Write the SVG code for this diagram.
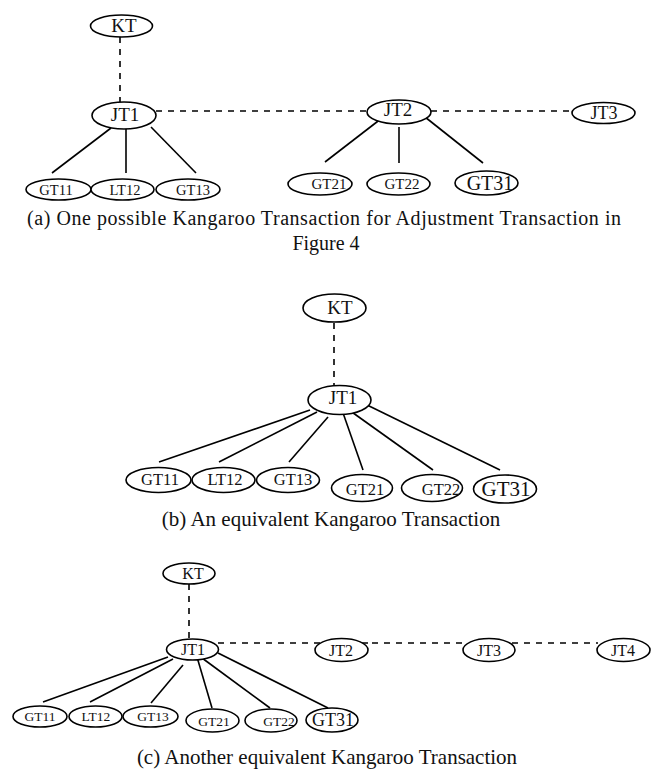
<svg xmlns="http://www.w3.org/2000/svg" width="652" height="772" viewBox="0 0 652 772">
<style>
.n ellipse{fill:#fff;stroke:#000;stroke-width:1.6}
.n text{font-family:"Liberation Serif","Times New Roman",serif;fill:#111;text-anchor:middle}
.s{stroke:#000;stroke-width:1.6;fill:none}
.d{stroke:#000;stroke-width:1.6;fill:none;stroke-dasharray:6,6}
.cap{font-family:"Liberation Serif","Times New Roman",serif;font-size:20px;fill:#111}
.cap2{font-family:"Liberation Serif","Times New Roman",serif;font-size:21px;fill:#111;text-anchor:middle}
</style>
<rect width="652" height="772" fill="#fff"/>
<g id="connectors">
<!-- (a) -->
<line class="d" x1="120" y1="37" x2="120" y2="102"/>
<line class="d" x1="156" y1="111" x2="367" y2="111"/>
<line class="d" x1="431" y1="111" x2="571" y2="111"/>
<line class="s" x1="111" y1="128" x2="52" y2="173"/>
<line class="s" x1="126" y1="128" x2="126" y2="173"/>
<line class="s" x1="151" y1="127" x2="196" y2="173"/>
<line class="s" x1="382" y1="118" x2="325" y2="162"/>
<line class="s" x1="399" y1="127" x2="399" y2="163"/>
<line class="s" x1="425" y1="117" x2="483" y2="163"/>
<!-- (b) -->
<line class="d" x1="334" y1="323" x2="334" y2="388"/>
<line class="s" x1="310" y1="410" x2="159" y2="462"/>
<line class="s" x1="317" y1="412" x2="219" y2="462"/>
<line class="s" x1="328" y1="417" x2="289" y2="462"/>
<line class="s" x1="342" y1="410" x2="363" y2="470"/>
<line class="s" x1="349" y1="410" x2="433" y2="470"/>
<line class="s" x1="363" y1="403" x2="500" y2="470"/>
<!-- (c) -->
<line class="d" x1="189" y1="584" x2="189" y2="640"/>
<line class="d" x1="218" y1="643" x2="372" y2="643"/>
<line class="d" x1="372" y1="643" x2="466" y2="643"/>
<line class="d" x1="512" y1="643" x2="598" y2="643"/>
<line class="s" x1="168" y1="657" x2="43" y2="702"/>
<line class="s" x1="173" y1="659" x2="90" y2="702"/>
<line class="s" x1="183" y1="665" x2="151" y2="703"/>
<line class="s" x1="197" y1="657" x2="212" y2="708"/>
<line class="s" x1="202" y1="658" x2="270" y2="708"/>
<line class="s" x1="218" y1="653" x2="328" y2="708"/>
</g>
<!-- (a) nodes -->
<g id="a_KT" class="n"><ellipse cx="121.5" cy="26" rx="31" ry="11"/><text x="124" y="32" font-size="19">KT</text></g>
<g id="a_JT1" class="n"><ellipse cx="124" cy="115.5" rx="32" ry="13.5"/><text x="125" y="121" font-size="19">JT1</text></g>
<g id="a_JT2" class="n"><ellipse cx="399" cy="112" rx="32" ry="12"/><text x="398" y="116" font-size="19">JT2</text></g>
<g id="a_JT3" class="n"><ellipse cx="603.5" cy="113" rx="31.5" ry="10.5"/><text x="604" y="119" font-size="18">JT3</text></g>
<g id="a_GT11" class="n"><ellipse cx="58.5" cy="189.5" rx="32.5" ry="10.5"/><text x="56" y="194.5" font-size="14.5">GT11</text></g>
<g id="a_LT12" class="n"><ellipse cx="122.5" cy="189.5" rx="31.5" ry="10.5"/><text x="125" y="194.5" font-size="14.5">LT12</text></g>
<g id="a_GT13" class="n"><ellipse cx="188" cy="189.5" rx="32" ry="10.5"/><text x="193" y="194.5" font-size="14.5">GT13</text></g>
<g id="a_GT21" class="n"><ellipse cx="320" cy="184" rx="32" ry="11"/><text x="329" y="189" font-size="15">GT21</text></g>
<g id="a_GT22" class="n"><ellipse cx="398.5" cy="184" rx="31.5" ry="11"/><text x="402" y="189" font-size="15">GT22</text></g>
<g id="a_GT31" class="n"><ellipse cx="486.5" cy="183" rx="31.5" ry="12"/><text x="490" y="190" font-size="20">GT31</text></g>
<!-- (b) nodes -->
<g id="b_KT" class="n"><ellipse cx="334.5" cy="308" rx="31.5" ry="14"/><text x="340" y="314" font-size="19">KT</text></g>
<g id="b_JT1" class="n"><ellipse cx="339.5" cy="400" rx="31.5" ry="14.5"/><text x="343" y="404" font-size="19">JT1</text></g>
<g id="b_GT11" class="n"><ellipse cx="158.5" cy="480" rx="32.5" ry="12.5"/><text x="160" y="485" font-size="16.5">GT11</text></g>
<g id="b_LT12" class="n"><ellipse cx="223.5" cy="480" rx="31.5" ry="12.5"/><text x="225" y="485" font-size="16.5">LT12</text></g>
<g id="b_GT13" class="n"><ellipse cx="288" cy="480" rx="31.5" ry="12.5"/><text x="293" y="485" font-size="16.5">GT13</text></g>
<g id="b_GT21" class="n"><ellipse cx="362" cy="488" rx="30.5" ry="13.5"/><text x="365" y="495" font-size="16.5">GT21</text></g>
<g id="b_GT22" class="n"><ellipse cx="432" cy="488" rx="30.5" ry="13.5"/><text x="441" y="495" font-size="16.5">GT22</text></g>
<g id="b_GT31" class="n"><ellipse cx="505" cy="489" rx="31.5" ry="14"/><text x="506" y="496" font-size="21">GT31</text></g>
<!-- (c) nodes -->
<g id="c_KT" class="n"><ellipse cx="189" cy="573.5" rx="26" ry="10.5"/><text x="193" y="579" font-size="16">KT</text></g>
<g id="c_JT1" class="n"><ellipse cx="192.5" cy="649.5" rx="26" ry="10.5"/><text x="193" y="655" font-size="16">JT1</text></g>
<g id="c_JT2" class="n"><ellipse cx="341.5" cy="650" rx="26.5" ry="11.5"/><text x="341" y="656" font-size="16">JT2</text></g>
<g id="c_JT3" class="n"><ellipse cx="489" cy="650" rx="26" ry="11.5"/><text x="489" y="656" font-size="16">JT3</text></g>
<g id="c_JT4" class="n"><ellipse cx="623.5" cy="650" rx="26.5" ry="11.5"/><text x="623" y="656" font-size="16">JT4</text></g>
<g id="c_GT11" class="n"><ellipse cx="40" cy="716.5" rx="27" ry="10.5"/><text x="40" y="721" font-size="13.5">GT11</text></g>
<g id="c_LT12" class="n"><ellipse cx="95.5" cy="716.5" rx="26.5" ry="10.5"/><text x="96" y="721" font-size="13.5">LT12</text></g>
<g id="c_GT13" class="n"><ellipse cx="150.5" cy="716.5" rx="27.5" ry="10.5"/><text x="153" y="721" font-size="13.5">GT13</text></g>
<g id="c_GT21" class="n"><ellipse cx="212.5" cy="720.5" rx="26.5" ry="11.5"/><text x="214" y="726" font-size="13.5">GT21</text></g>
<g id="c_GT22" class="n"><ellipse cx="271" cy="720.5" rx="26" ry="11.5"/><text x="279" y="726" font-size="13.5">GT22</text></g>
<g id="c_GT31" class="n"><ellipse cx="332" cy="720" rx="26" ry="12"/><text x="333" y="726" font-size="18">GT31</text></g>
<!-- captions -->
<text class="cap" x="27" y="225" textLength="594" lengthAdjust="spacing">(a) One possible Kangaroo Transaction for Adjustment Transaction in</text>
<text class="cap" x="326" y="250" text-anchor="middle">Figure 4</text>
<text class="cap2" x="331" y="526">(b) An equivalent Kangaroo Transaction</text>
<text class="cap2" x="327" y="764">(c) Another equivalent Kangaroo Transaction</text>
</svg>
